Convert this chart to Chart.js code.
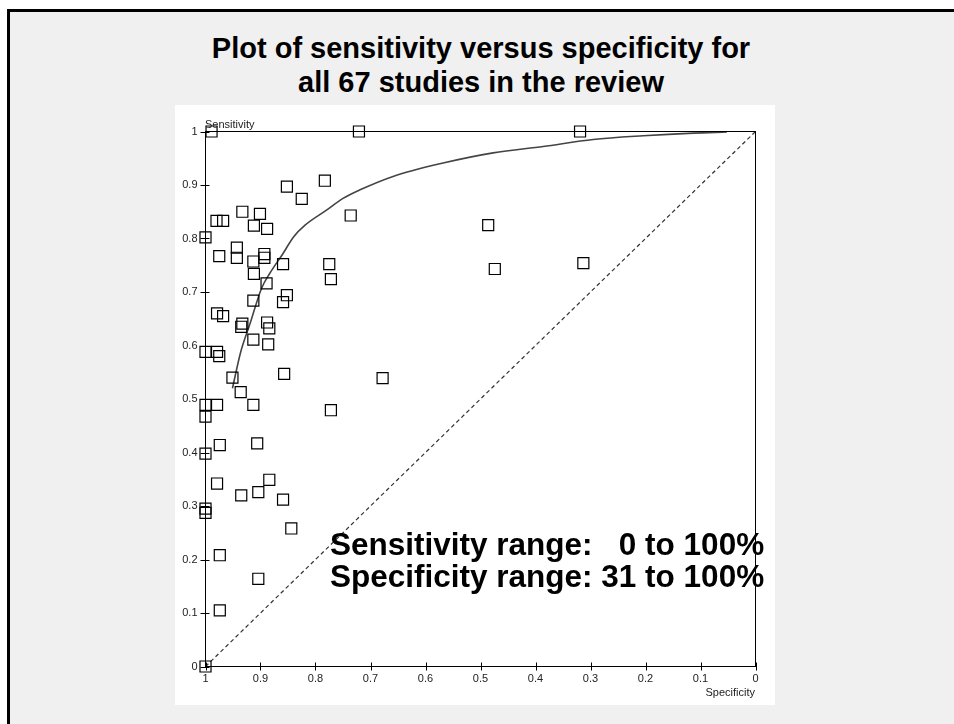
<!DOCTYPE html>
<html lang="en">
<head>
<meta charset="UTF-8">
<style>
  body { margin: 0; width: 954px; height: 724px; overflow: hidden; position: relative; background: #fff; font-family: Arial, "Liberation Sans", sans-serif; }
  #slide { position: absolute; left: 7px; top: 9px; width: 1000px; height: 800px; background: #f0f0f0; border-left: 3px solid #000; border-top: 3px solid #000; }
  #title { position: absolute; left: 0; top: 31px; width: 962px; text-align: center; font-weight: bold; font-size: 29px; line-height: 34px; color: #000; }
  #panel { position: absolute; left: 175px; top: 105px; width: 600px; height: 600px; background: #fff; }
  .axlab { position: absolute; font-size: 11px; color: #222; line-height: 12px; }
  #note { position: absolute; left: 330px; top: 528px; font-weight: bold; font-size: 31.5px; line-height: 32px; color: #000; white-space: pre; }
</style>
</head>
<body>
<div id="slide"></div>
<div id="title">Plot of sensitivity versus specificity for<br>all 67 studies in the review</div>
<div id="panel"><canvas id="sroc" width="600" height="600"></canvas></div>
<div class="axlab" style="left:205px; top:118px;">Sensitivity</div>
<div class="axlab" style="right:199px; top:686px;">Specificity</div>
<div id="note">Sensitivity range:   0 to 100%
Specificity range: 31 to 100%</div>

<script src="https://cdn.jsdelivr.net/npm/chart.js"></script>
<script>
    // one study per index
    const specificity = [
        0.989, 0.721, 0.319, 0.852, 0.783, 0.825, 0.736, 0.980, 0.968, 0.933,
        0.901, 0.912, 0.888, 1.000, 0.975, 0.943, 0.943, 0.913, 0.893, 0.893,
        0.912, 0.859, 0.775, 0.772, 0.889, 0.913, 0.859, 0.852, 0.979, 0.968,
        0.933, 0.935, 0.888, 0.884, 0.913, 0.886, 1.000, 0.979, 0.975, 0.857,
        0.951, 0.936, 1.000, 0.979, 1.000, 0.913, 0.772, 0.974, 0.906, 1.000,
        0.979, 0.884, 0.935, 0.904, 0.859, 1.000, 1.000, 0.844, 0.974, 0.904,
        0.974, 1.000, 0.486, 0.474, 0.313, 0.678
    ];
    const sensitivity = [
        1.000, 1.000, 1.000, 0.897, 0.908, 0.874, 0.843, 0.833, 0.833, 0.850,
        0.846, 0.824, 0.818, 0.802, 0.767, 0.783, 0.764, 0.757, 0.771, 0.764,
        0.734, 0.752, 0.752, 0.724, 0.716, 0.684, 0.681, 0.694, 0.660, 0.655,
        0.641, 0.635, 0.643, 0.632, 0.611, 0.602, 0.588, 0.588, 0.580, 0.547,
        0.540, 0.513, 0.489, 0.489, 0.467, 0.489, 0.479, 0.414, 0.417, 0.398,
        0.342, 0.349, 0.320, 0.326, 0.312, 0.295, 0.287, 0.258, 0.208, 0.164,
        0.105, 0.000, 0.825, 0.743, 0.754, 0.539
    ];

    // summary ROC curve
    const curveSpec = [0.951, 0.936, 0.919, 0.898, 0.883, 0.859, 0.840, 0.819, 0.780, 0.750, 0.719, 0.659, 0.568, 0.477, 0.386, 0.295, 0.204, 0.113, 0.052];
    const curveSens = [0.520, 0.588, 0.641, 0.707, 0.735, 0.772, 0.803, 0.825, 0.853, 0.875, 0.891, 0.916, 0.941, 0.960, 0.972, 0.985, 0.992, 0.997, 0.999];

    // chance line
    const diagSpec = [1, 0];
    const diagSens = [0, 1];

    const tickValues = [0, 0.1, 0.2, 0.3, 0.4, 0.5, 0.6, 0.7, 0.8, 0.9, 1];

    const toPoints = (xs, ys) => xs.map((x, i) => ({ x: x, y: ys[i] }));
    const fmt = v => String(+v.toFixed(1));

    // box round the plot and ticks that cross the axis lines
    const framePlugin = {
        id: "frame",
        afterDraw(chart) {
            const { ctx, chartArea: a, scales } = chart;
            ctx.save();
            ctx.strokeStyle = "#000";
            ctx.lineWidth = 1;
            ctx.strokeRect(a.left, a.top, a.right - a.left, a.bottom - a.top);
            ctx.beginPath();
            tickValues.forEach(v => {
                const y = Math.round(scales.y.getPixelForValue(v)) + 0.5;
                ctx.moveTo(a.left - 5, y);
                ctx.lineTo(a.left + 4, y);
                const x = Math.round(scales.x.getPixelForValue(v)) + 0.5;
                ctx.moveTo(x, a.bottom - 4);
                ctx.lineTo(x, a.bottom + 4);
            });
            ctx.stroke();
            ctx.restore();
        }
    };

    const tickFont = { family: "Arial, 'Liberation Sans', sans-serif", size: 11 };

    new Chart(document.getElementById("sroc").getContext("2d"), {
        type: "scatter",
        data: {
            datasets: [
                {
                    label: "Studies",
                    data: toPoints(specificity, sensitivity),
                    pointStyle: "rect",
                    pointRadius: 7.8,
                    pointBorderColor: "#000",
                    pointBorderWidth: 1.2,
                    pointBackgroundColor: "rgba(0,0,0,0)",
                    clip: false
                },
                {
                    label: "SROC",
                    data: toPoints(curveSpec, curveSens),
                    showLine: true,
                    cubicInterpolationMode: "monotone",
                    borderColor: "#444",
                    borderWidth: 1.6,
                    pointRadius: 0
                },
                {
                    label: "Chance",
                    data: toPoints(diagSpec, diagSens),
                    showLine: true,
                    borderColor: "#333",
                    borderWidth: 1.2,
                    borderDash: [4, 3],
                    pointRadius: 0
                }
            ]
        },
        options: {
            responsive: false,
            animation: false,
            devicePixelRatio: 1,
            layout: { padding: { top: 26.5, right: 19.5, left: 0, bottom: 0 } },
            plugins: { legend: { display: false }, tooltip: { enabled: false } },
            scales: {
                x: {
                    type: "linear",
                    min: 0,
                    max: 1,
                    reverse: true,
                    grid: { display: false, drawTicks: false },
                    border: { display: false },
                    afterBuildTicks: s => { s.ticks = tickValues.map(v => ({ value: v })); },
                    afterFit: s => { s.height = 38.5; },
                    ticks: { autoSkip: false, maxRotation: 0, padding: 6, color: "#222", font: tickFont, callback: fmt }
                },
                y: {
                    type: "linear",
                    min: 0,
                    max: 1,
                    grid: { display: false, drawTicks: false },
                    border: { display: false },
                    afterBuildTicks: s => { s.ticks = tickValues.map(v => ({ value: v })); },
                    afterFit: s => { s.width = 30.5; },
                    ticks: { autoSkip: false, padding: 8, color: "#222", font: tickFont, callback: fmt }
                }
            }
        },
        plugins: [framePlugin]
    });
</script>
</body>
</html>
